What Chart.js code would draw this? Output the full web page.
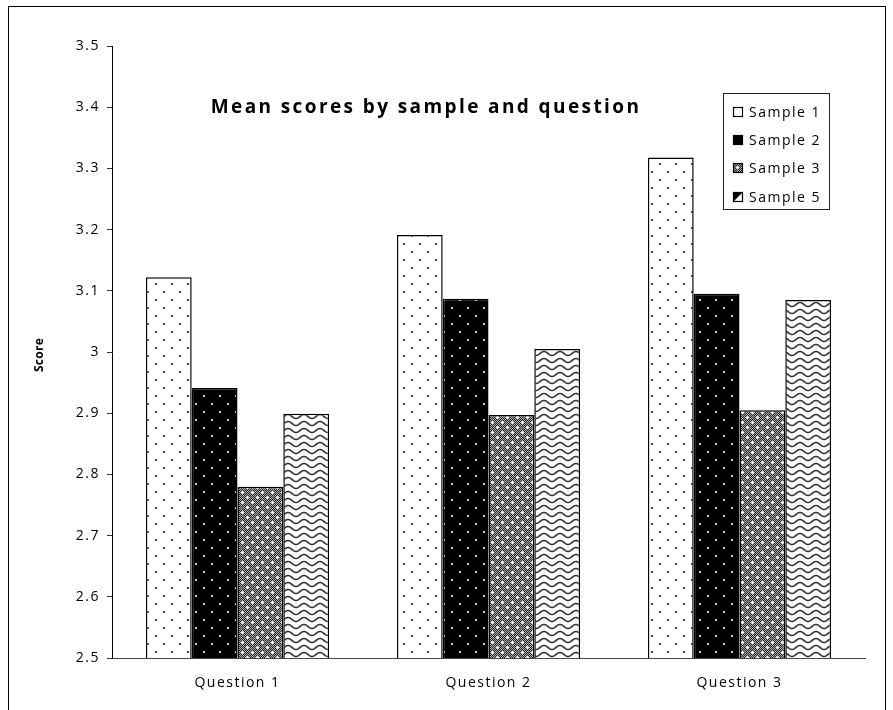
<!DOCTYPE html>
<html>
<head>
<meta charset="utf-8">
<script src="https://cdn.jsdelivr.net/npm/chart.js@4.4.0/dist/chart.umd.min.js"></script>
<style>
  html, body { margin: 0; padding: 0; background: #fff; }
  #wrap { width: 893px; height: 710px; }
</style>
</head>
<body>
<div id="wrap"><canvas id="c" width="893" height="710"></canvas></div>
<script>
// ---- data ----
const categories = ['Question 1', 'Question 2', 'Question 3'];
const sample1 = [3.122, 3.191, 3.318];
const sample2 = [2.941, 3.087, 3.095];
const sample3 = [2.780, 2.897, 2.905];
const sample5 = [2.899, 3.005, 3.085];
const seriesNames = ['Sample 1', 'Sample 2', 'Sample 3', 'Sample 5'];
const yTickLabels = ['2.5', '2.6', '2.7', '2.8', '2.9', '3', '3.1', '3.2', '3.3', '3.4', '3.5'];
const chartTitle = 'Mean scores by sample and question';
const yAxisTitle = 'Score';

// ---- fill patterns ----
const FONT = '"Open Sans", "Liberation Sans", sans-serif';
const canvas = document.getElementById('c');
const ctx0 = canvas.getContext('2d');

function makeTile(w, h, draw) {
  const c = document.createElement('canvas');
  c.width = w; c.height = h;
  draw(c.getContext('2d'), w, h);
  return c;
}

// sparse dots on white
const patDots = ctx0.createPattern(makeTile(16, 16, (g) => {
  g.fillStyle = '#fff'; g.fillRect(0, 0, 16, 16);
  g.fillStyle = '#444';
  g.fillRect(3, 3, 2, 2); g.fillRect(11, 11, 2, 2);
}), 'repeat');

// light dots on black
const patDarkDots = ctx0.createPattern(makeTile(16, 16, (g) => {
  g.fillStyle = '#000'; g.fillRect(0, 0, 16, 16);
  g.fillStyle = '#ccc';
  g.fillRect(3, 3, 2, 2); g.fillRect(11, 11, 2, 2);
}), 'repeat');

// fine checker mesh with small white crosses
const patMesh = ctx0.createPattern(makeTile(10, 10, (g, w, h) => {
  for (let y = 0; y < h; y++) {
    for (let x = 0; x < w; x++) {
      g.fillStyle = (x + y) % 2 ? '#222' : '#b0b0b0';
      g.fillRect(x, y, 1, 1);
    }
  }
  g.fillStyle = '#fff';
  g.fillRect(2, 1, 1, 3); g.fillRect(1, 2, 3, 1);
  g.fillRect(7, 6, 1, 3); g.fillRect(6, 7, 3, 1);
}), 'repeat');

// horizontal waves
const patWaves = ctx0.createPattern(makeTile(16, 7, (g, w, h) => {
  g.fillStyle = '#fff'; g.fillRect(0, 0, w, h);
  g.strokeStyle = '#333'; g.lineWidth = 1.6;
  g.beginPath();
  for (let x = -1; x <= w + 1; x += 0.5) {
    const y = 3.5 - 2 * Math.cos(2 * Math.PI * x / w);
    if (x === -1) g.moveTo(x, y); else g.lineTo(x, y);
  }
  g.stroke();
}), 'repeat');

const fills = [patDots, patDarkDots, patMesh, patWaves];
const seriesData = [sample1, sample2, sample3, sample5];

// ---- legend markers ----
function drawMarker(ctx, i, x, y, s) {
  ctx.save();
  ctx.lineWidth = 1.2;
  ctx.strokeStyle = '#000';
  if (i === 0) {
    ctx.fillStyle = '#fff'; ctx.fillRect(x, y, s, s);
  } else if (i === 1) {
    ctx.fillStyle = '#000'; ctx.fillRect(x, y, s, s);
  } else if (i === 2) {
    ctx.fillStyle = patMesh; ctx.fillRect(x, y, s, s);
  } else {
    ctx.fillStyle = '#fff'; ctx.fillRect(x, y, s, s);
    ctx.fillStyle = '#000';
    ctx.beginPath(); ctx.moveTo(x, y + s); ctx.lineTo(x + s, y); ctx.lineTo(x, y); ctx.closePath(); ctx.fill();
  }
  ctx.strokeRect(x + 0.5, y + 0.5, s - 1, s - 1);
  ctx.restore();
}

// ---- overlay: frame, title, axis title, legend ----
const overlay = {
  id: 'overlay',
  beforeDraw(chart) {
    chart.ctx.letterSpacing = '1.5px';
  },
  afterDraw(chart) {
    const ctx = chart.ctx;
    ctx.save();
    // outer frame
    ctx.strokeStyle = '#000'; ctx.lineWidth = 1;
    ctx.strokeRect(8.5, 6.5, 877, 720);

    // chart title
    ctx.fillStyle = '#000';
    ctx.font = 'bold 19px ' + FONT;
    ctx.letterSpacing = '2.4px';
    ctx.textAlign = 'center'; ctx.textBaseline = 'middle';
    ctx.fillText(chartTitle, 426, 108);

    // y axis title
    ctx.save();
    ctx.translate(40, 355);
    ctx.rotate(-Math.PI / 2);
    ctx.font = 'bold 12px ' + FONT;
    ctx.letterSpacing = '0.3px';
    ctx.fillText(yAxisTitle, 0, 0);
    ctx.restore();

    // legend box
    ctx.strokeStyle = '#222';
    ctx.strokeRect(723.5, 93.5, 106, 116);
    ctx.font = '14px ' + FONT;
    ctx.letterSpacing = '1.5px';
    ctx.textAlign = 'left'; ctx.textBaseline = 'middle';
    const rows = [112, 140, 168, 197];
    seriesNames.forEach((name, i) => {
      drawMarker(ctx, i, 733, rows[i] - 5, 10);
      ctx.fillStyle = '#000';
      ctx.fillText(name, 749, rows[i] + 1);
    });
    ctx.restore();
  }
};

new Chart(canvas, {
  type: 'bar',
  data: {
    labels: categories,
    datasets: seriesNames.map((name, i) => ({
      label: name,
      data: seriesData[i],
      backgroundColor: fills[i],
      borderColor: '#000',
      borderWidth: 1.5,
      categoryPercentage: 0.73,
      barPercentage: 1.0
    }))
  },
  options: {
    responsive: false,
    devicePixelRatio: 1,
    animation: false,
    layout: { padding: { top: 46, right: 28, left: 0, bottom: 0 } },
    plugins: {
      legend: { display: false },
      title: { display: false },
      tooltip: { enabled: false }
    },
    scales: {
      x: {
        grid: { display: false, drawTicks: false },
        border: { display: true, color: '#444', width: 1 },
        ticks: { color: '#000', padding: 17, font: { family: FONT, size: 14 } },
        afterFit(scale) { scale.height = 52; }
      },
      y: {
        min: 2.5,
        max: 3.5,
        grid: { display: true, drawOnChartArea: false, drawTicks: true, tickLength: 5, color: '#333' },
        border: { display: true, color: '#000', width: 1 },
        ticks: {
          stepSize: 0.1,
          color: '#000',
          padding: 7,
          font: { family: FONT, size: 14 },
          callback: (v, i) => yTickLabels[i] !== undefined ? yTickLabels[i] : v
        },
        afterFit(scale) { scale.width = 112; }
      }
    }
  },
  plugins: [overlay]
});
</script>
</body>
</html>
